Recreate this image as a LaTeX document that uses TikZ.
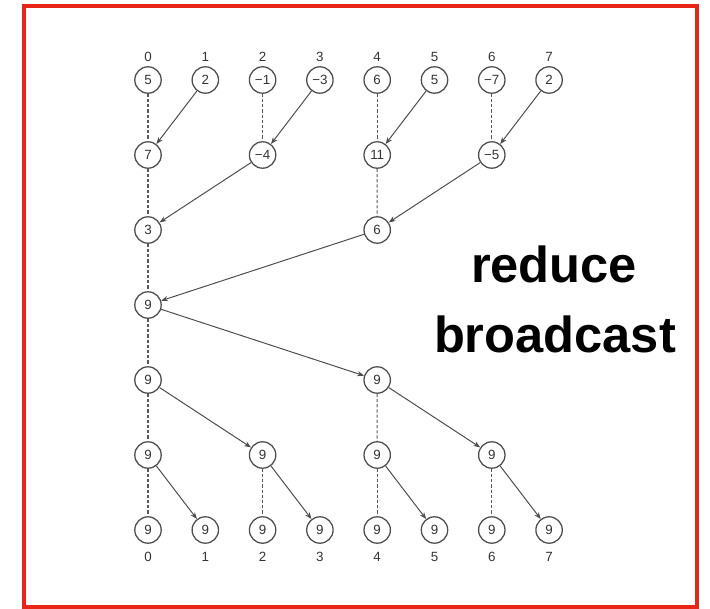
\documentclass[tikz,border=0pt]{standalone}
\usepackage{fontspec}
\setmainfont{Liberation Sans}
\usetikzlibrary{arrows.meta}
\definecolor{framered}{RGB}{232,38,24}
\tikzset{
	proc/.style={circle, draw=black!70, line width=0.9pt, minimum size=0.66cm, inner sep=0pt, text=black!80, font=\fontsize{9.5}{11}\selectfont},
	rank/.style={text=black!80, font=\fontsize{9.5}{11}\selectfont},
	keep/.style={draw=black!65, line width=0.75pt, dash pattern=on 2.2pt off 1.5pt},
	send/.style={->, draw=black!70, line width=0.7pt},
	title/.style={font=\fontsize{36}{44}\selectfont\bfseries, anchor=base}
}

\begin{document}
\begin{tikzpicture}[x=0.025cm, y=-0.025cm, >={Stealth[length=1.7mm, width=1.3mm]}]
	\useasboundingbox (0,0) rectangle (710,609);
	\draw[framered, line width=3.5pt] (24,6) rectangle (697,607);
	\foreach \v [count=\i from 0] in {5,2,−1,−3,6,5,−7,2} {
		\node[rank] (top\i) at ({148+57.3*\i},57) {\i};
		\node[proc] (r1-\i) at ({148+57.3*\i},80) {\v};
		\node[proc] (r7-\i) at ({148+57.3*\i},530) {9};
		\node[rank] (bot\i) at ({148+57.3*\i},557) {\i};
	}
	\foreach \c/\v in {0/7,2/−4,4/11,6/−5} \node[proc] (r2-\c) at ({148+57.3*\c},155) {\v};
	\node[proc] (r3-0) at (148,230) {3};
	\node[proc] (r3-4) at (377.2,230) {6};
	\node[proc] (r4-0) at (148,305) {9};
	\node[proc] (r5-0) at (148,380) {9};
	\node[proc] (r5-4) at (377.2,380) {9};
	\foreach \c in {0,2,4,6} \node[proc] (r6-\c) at ({148+57.3*\c},455) {9};
	\foreach \a/\b in {r1-0/r2-0, r2-0/r3-0, r3-0/r4-0, r4-0/r5-0, r5-0/r6-0, r6-0/r7-0, r1-2/r2-2, r1-4/r2-4, r2-4/r3-4, r1-6/r2-6, r5-4/r6-4, r6-4/r7-4, r6-2/r7-2, r6-6/r7-6}
		\draw[keep] (\a) -- (\b);
	\foreach \a/\b in {r1-1/r2-0, r1-3/r2-2, r1-5/r2-4, r1-7/r2-6, r2-2/r3-0, r2-6/r3-4, r3-4/r4-0, r4-0/r5-4, r5-0/r6-2, r5-4/r6-6, r6-0/r7-1, r6-2/r7-3, r6-4/r7-5, r6-6/r7-7}
		\draw[send] (\a) -- (\b);
	\node[title] (reduce) at (554,283) {reduce};
	\node[title] (bcast) at (555,353) {broadcast};
\end{tikzpicture}
\end{document}
